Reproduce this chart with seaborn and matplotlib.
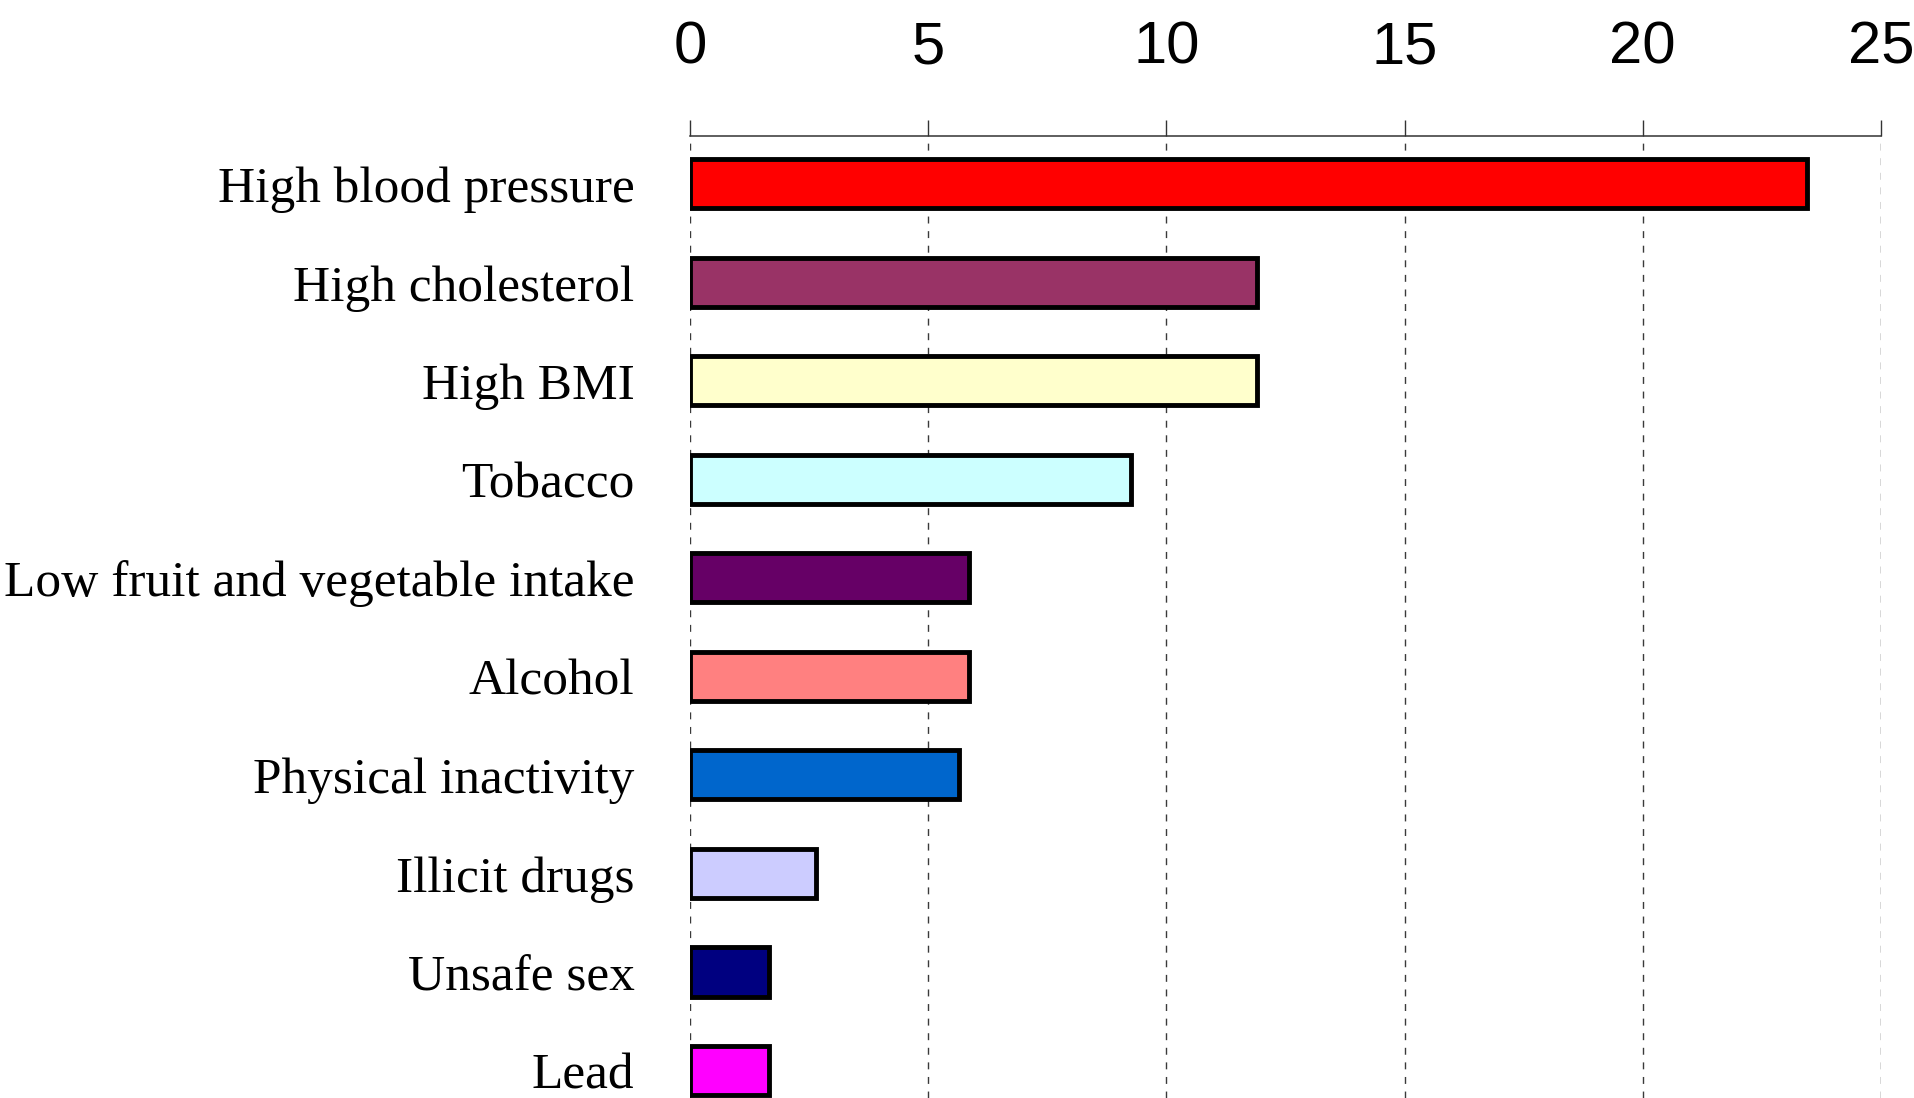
import matplotlib
matplotlib.use("Agg")
import matplotlib.pyplot as plt
import seaborn as sns
import pandas as pd

# Data
risk_factors = [
    "High blood pressure",
    "High cholesterol",
    "High BMI",
    "Tobacco",
    "Low fruit and vegetable intake",
    "Alcohol",
    "Physical inactivity",
    "Illicit drugs",
    "Unsafe sex",
    "Lead",
]
values = [23.45, 11.9, 11.9, 9.25, 5.85, 5.85, 5.65, 2.65, 1.65, 1.65]
bar_colors = [
    "#FF0000", "#993366", "#FFFFCC", "#CCFFFF", "#660066",
    "#FF8080", "#0066CC", "#CCCCFF", "#000080", "#FF00FF",
]
x_ticks = [0, 5, 10, 15, 20, 25]


def main():
    df = pd.DataFrame({"factor": risk_factors, "value": values})

    sns.set_style("white")
    fig = plt.figure(figsize=(19.15, 10.985), dpi=100)
    ax = fig.add_axes([0.3603, 0.0, 0.9822 - 0.3603, 0.8753])

    sns.barplot(
        data=df, x="value", y="factor", hue="factor",
        palette=dict(zip(risk_factors, bar_colors)),
        orient="h", width=0.5, legend=False, ax=ax,
        edgecolor="black", linewidth=3.5, saturation=1,
    )

    ax.set_xlim(0, 25)
    ax.set_ylim(9.28, -0.48)

    # x axis on top
    ax.xaxis.tick_top()
    ax.set_xticks(x_ticks)
    ax.set_xticklabels([str(t) for t in x_ticks], family="Liberation Sans",
                       fontsize=43, color="black")
    ax.tick_params(axis="x", direction="out", length=11.5, width=1.0,
                   color="#333333", pad=33)

    # category labels
    ax.set_yticks(range(len(risk_factors)))
    ax.set_yticklabels(risk_factors, family="Liberation Serif", fontsize=37,
                       color="black")
    ax.tick_params(axis="y", length=0, pad=40)

    ax.set_xlabel("")
    ax.set_ylabel("")

    # dashed vertical gridlines behind the bars
    ax.set_axisbelow(True)
    ax.grid(axis="x", color="#3a3a3a", linestyle=(0, (5, 5.5)), linewidth=1.0)
    ax.grid(axis="y", visible=False)

    for side in ["left", "right", "bottom"]:
        ax.spines[side].set_visible(False)
    ax.spines["top"].set_color("#333333")
    ax.spines["top"].set_linewidth(1.1)

    fig.savefig("out.png", dpi=100)


if __name__ == "__main__":
    main()
